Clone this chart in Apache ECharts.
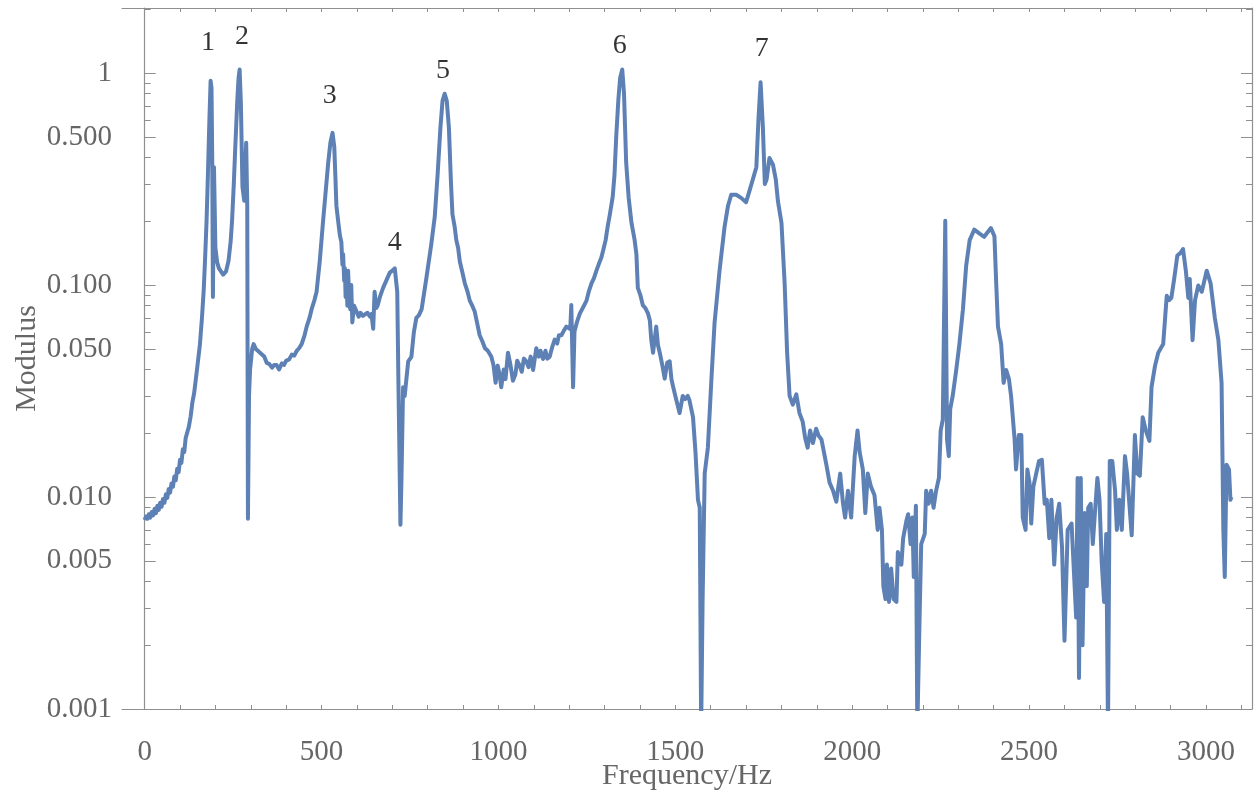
<!DOCTYPE html>
<html>
<head>
<meta charset="utf-8">
<script src="https://cdn.jsdelivr.net/npm/echarts@6/dist/echarts.min.js"></script>
<style>
  html, body { margin: 0; padding: 0; background: #fff; }
  #chart { width: 1254px; height: 794px; }
</style>
</head>
<body>
<div id="chart"></div>
<script>
// frequency (Hz) and modulus, 10 points per row
const freqHz = [
  0, 4, 8, 12, 16, 20, 24, 28, 32, 36,
  40, 44, 48, 52, 56, 60, 64, 68, 72, 76,
  80, 84, 88, 92, 96, 100, 104, 108, 112, 116,
  120, 125, 130, 135, 140, 148, 156, 162, 167, 171,
  175, 179, 183, 186.5, 189, 191, 193, 196, 198.5, 200,
  205, 210, 222, 230, 237, 243, 247, 252, 256, 262,
  265.5, 268.5, 272, 276.5, 281.5, 287, 290, 292, 295, 298,
  304, 308, 314, 320, 326, 331, 338, 345, 352, 360,
  366, 373, 380, 388, 394, 400, 408, 416, 423, 430,
  437, 444, 452, 458, 466, 472, 480, 486, 495, 504,
  512, 519, 525, 531, 536, 539, 542, 547, 552, 556,
  559, 561, 564, 566, 568, 570, 573, 575, 578, 581,
  584, 587, 592, 599, 605, 610, 617, 624, 630, 637,
  641, 646, 650, 655, 659, 665, 674, 683, 693, 700,
  707, 714, 717.5, 723, 726, 730.5, 735, 745, 754, 761,
  768, 775, 783, 796, 810, 820, 828, 836, 842, 848,
  854, 860, 866, 870, 876, 881, 886, 891, 898, 905,
  912, 919, 926, 933, 940, 947, 955, 962, 970, 980,
  986, 992, 998, 1003, 1008, 1015, 1020, 1027, 1034, 1041,
  1048, 1053, 1060, 1066, 1072, 1079, 1085, 1091, 1098, 1107,
  1114, 1119, 1126, 1133, 1138, 1145, 1152, 1159, 1166, 1171,
  1178, 1185, 1192, 1203, 1206, 1211, 1215, 1222, 1230, 1240,
  1249, 1256, 1263, 1270, 1277, 1284, 1291, 1297, 1303, 1309,
  1315, 1323, 1328, 1333, 1339, 1344, 1350, 1355, 1361, 1368,
  1376, 1385, 1390, 1394, 1401, 1408, 1415, 1423, 1428, 1432,
  1437, 1446, 1451, 1456, 1463, 1470, 1477, 1484, 1489, 1494,
  1503, 1512, 1521, 1528, 1535, 1540, 1550, 1557, 1564, 1569,
  1573, 1577, 1583, 1592, 1602, 1611, 1625, 1639, 1649, 1658,
  1672, 1686, 1700, 1710, 1719, 1729, 1735, 1741, 1747.5, 1753,
  1758, 1766, 1776, 1784, 1790, 1800, 1809, 1816, 1823, 1832,
  1842, 1851, 1860, 1867, 1874, 1881, 1889, 1898, 1905, 1913,
  1927, 1936, 1946, 1955, 1966, 1974, 1980, 1988, 1997, 2007,
  2015, 2021, 2030, 2037, 2044, 2053, 2063, 2072, 2077, 2084,
  2088, 2094, 2098, 2104, 2110, 2117, 2125, 2129, 2139, 2144,
  2153, 2158, 2165, 2170, 2174, 2180, 2184, 2190, 2195, 2205,
  2209, 2216, 2223, 2230, 2237, 2245, 2250, 2256, 2263, 2268,
  2273, 2277, 2284, 2294, 2303, 2313, 2322, 2332, 2345, 2360,
  2373, 2392, 2402, 2407, 2412, 2421, 2428, 2435, 2443, 2449,
  2459, 2463, 2471, 2478, 2482, 2490, 2495, 2501, 2506, 2512,
  2520, 2528, 2536, 2544, 2550, 2557, 2563, 2571, 2578, 2585,
  2593, 2600, 2609, 2620, 2628, 2633, 2637, 2641, 2646, 2651,
  2657, 2663, 2667, 2674, 2680, 2687, 2693, 2699, 2705, 2712,
  2718, 2723, 2728, 2735, 2743, 2748, 2755, 2762, 2771, 2777,
  2790, 2799, 2806, 2813, 2821, 2830, 2840, 2846, 2856, 2865,
  2879, 2889, 2896, 2902, 2910, 2919, 2928, 2935, 2943, 2950,
  2954, 2962, 2969, 2978, 2988, 3002, 3013, 3025, 3035, 3044,
  3049, 3053, 3058, 3065, 3069, 3072
];
const modulus = [
  0.0078, 0.0081, 0.0079, 0.0083, 0.0080, 0.0085, 0.0082, 0.0088, 0.0084, 0.0091,
  0.0087, 0.0094, 0.0090, 0.0098, 0.0094, 0.0103, 0.0099, 0.0109, 0.0105, 0.0116,
  0.0112, 0.0125, 0.0120, 0.0136, 0.0131, 0.0150, 0.0145, 0.0168, 0.0163, 0.0190,
  0.0186, 0.0215, 0.024, 0.028, 0.031, 0.040, 0.052, 0.07, 0.095, 0.135,
  0.2, 0.34, 0.6, 0.92, 0.85, 0.4, 0.088, 0.36, 0.36, 0.15,
  0.128, 0.12, 0.112, 0.116, 0.13, 0.16, 0.2, 0.3, 0.44, 0.75,
  0.95, 1.04, 0.72, 0.29, 0.25, 0.47, 0.24, 0.0079, 0.03, 0.04,
  0.05, 0.0527, 0.050, 0.049, 0.048, 0.047, 0.046, 0.043, 0.0425, 0.0408,
  0.0420, 0.042, 0.040, 0.0427, 0.0420, 0.044, 0.0445, 0.047, 0.0465, 0.049,
  0.0505, 0.0528, 0.058, 0.0637, 0.07, 0.077, 0.085, 0.093, 0.13, 0.197,
  0.28, 0.38, 0.47, 0.523, 0.45, 0.33, 0.237, 0.2, 0.171, 0.16,
  0.125, 0.14, 0.105, 0.12, 0.088, 0.11, 0.08, 0.117, 0.09, 0.077,
  0.1, 0.0667, 0.08, 0.075, 0.071, 0.074, 0.0716, 0.073, 0.074, 0.071,
  0.073, 0.0622, 0.093, 0.078, 0.0805, 0.088, 0.097, 0.105, 0.1146, 0.117,
  0.12, 0.093, 0.033, 0.0074, 0.0123, 0.033, 0.030, 0.0437, 0.0459, 0.06,
  0.070, 0.072, 0.077, 0.107, 0.155, 0.21, 0.33, 0.553, 0.74, 0.80,
  0.74, 0.553, 0.30, 0.216, 0.19, 0.163, 0.15, 0.129, 0.115, 0.102,
  0.094, 0.0845, 0.080, 0.075, 0.066, 0.058, 0.054, 0.0504, 0.049, 0.0459,
  0.042, 0.0346, 0.0417, 0.038, 0.033, 0.040, 0.036, 0.048, 0.042, 0.0354,
  0.038, 0.044, 0.0417, 0.039, 0.045, 0.0437, 0.041, 0.046, 0.0398, 0.0504,
  0.046, 0.049, 0.0448, 0.049, 0.045, 0.046, 0.051, 0.0553, 0.053, 0.058,
  0.058, 0.061, 0.0637, 0.062, 0.0805, 0.033, 0.0605, 0.067, 0.0733, 0.079,
  0.0845, 0.094, 0.102, 0.108, 0.117, 0.126, 0.135, 0.148, 0.163, 0.19,
  0.216, 0.261, 0.33, 0.504, 0.75, 0.95, 1.04, 0.8, 0.38, 0.26,
  0.197, 0.163, 0.14, 0.097, 0.09, 0.0805, 0.078, 0.0733, 0.068, 0.0553,
  0.048, 0.0637, 0.052, 0.048, 0.042, 0.0362, 0.043, 0.0437, 0.036, 0.033,
  0.0286, 0.0249, 0.030, 0.029, 0.030, 0.0286, 0.0238, 0.0163, 0.0097, 0.0089,
  0.0008, 0.0032, 0.0129, 0.0171, 0.036, 0.0667, 0.117, 0.1876, 0.237, 0.267,
  0.267, 0.258, 0.246, 0.28, 0.315, 0.36, 0.608, 0.906, 0.553, 0.30,
  0.315, 0.398, 0.37, 0.315, 0.249, 0.197, 0.102, 0.048, 0.030, 0.0273,
  0.0305, 0.0249, 0.0227, 0.019, 0.0171, 0.0206, 0.018, 0.021, 0.0195, 0.0187,
  0.0142, 0.0117, 0.0107, 0.0095, 0.0129, 0.0093, 0.008, 0.0107, 0.008, 0.0156,
  0.0206, 0.0163, 0.0135, 0.0084, 0.0129, 0.0112, 0.0102, 0.007, 0.0089, 0.007,
  0.0038, 0.0033, 0.0048, 0.0032, 0.0046, 0.0033, 0.0032, 0.0055, 0.0048, 0.0064,
  0.0077, 0.0083, 0.006, 0.008, 0.0042, 0.0091, 0.0008, 0.0025, 0.006, 0.0067,
  0.0107, 0.0093, 0.0107, 0.0089, 0.0107, 0.0123, 0.0206, 0.0232, 0.201, 0.0187,
  0.0156, 0.026, 0.030, 0.0398, 0.0527, 0.077, 0.123, 0.163, 0.183, 0.175,
  0.169, 0.186, 0.17, 0.102, 0.0637, 0.0527, 0.0346, 0.0398, 0.036, 0.030,
  0.0187, 0.0135, 0.0196, 0.0196, 0.008, 0.007, 0.0135, 0.0117, 0.0075, 0.0112,
  0.0129, 0.0148, 0.015, 0.0093, 0.0097, 0.0064, 0.0097, 0.0048, 0.008, 0.0093,
  0.0058, 0.0021, 0.007, 0.0075, 0.004, 0.0027, 0.0123, 0.0014, 0.0123, 0.002,
  0.0084, 0.0038, 0.0089, 0.0093, 0.006, 0.0089, 0.0123, 0.0097, 0.005, 0.0032,
  0.0067, 0.0008, 0.0148, 0.0148, 0.0107, 0.007, 0.0097, 0.007, 0.0156, 0.0129,
  0.0066, 0.0196, 0.0129, 0.0126, 0.0238, 0.0206, 0.0184, 0.033, 0.0417, 0.048,
  0.0527, 0.089, 0.085, 0.087, 0.107, 0.138, 0.142, 0.148, 0.117, 0.087,
  0.107, 0.055, 0.085, 0.0995, 0.093, 0.117, 0.102, 0.07, 0.055, 0.0346,
  0.007, 0.0042, 0.0142, 0.0135, 0.0097, 0.01
];

// peak numbers
const peakNames = ['1', '2', '3', '4', '5', '6', '7'];
const peakX = [179, 275, 523, 707, 843, 1343, 1744];
const peakY = [1.40, 1.49, 0.78, 0.158, 1.03, 1.355, 1.30];

// ticks
const xLabelValues = [0, 500, 1000, 1500, 2000, 2500, 3000];
const xTickValues = [0, 100, 200, 300, 400, 500, 600, 700, 800, 900, 1000, 1100, 1200, 1300, 1400, 1500,
  1600, 1700, 1800, 1900, 2000, 2100, 2200, 2300, 2400, 2500, 2600, 2700, 2800, 2900, 3000, 3100];
const yLabelValues = [0.001, 0.005, 0.01, 0.05, 0.1, 0.5, 1];
const yLabelText = ['0.001', '0.005', '0.010', '0.050', '0.100', '0.500', '1'];
const yMinorValues = [0.002, 0.003, 0.004, 0.006, 0.007, 0.008, 0.009,
  0.02, 0.03, 0.04, 0.06, 0.07, 0.08, 0.09,
  0.2, 0.3, 0.4, 0.6, 0.7, 0.8, 0.9, 2];

const serif = 'Liberation Serif';
const frameColor = '#8f8f8f';
const labelColor = '#666666';
const X_MIN = -64, X_MAX = 3130;
const Y_MIN = 0.001, Y_MAX = 2.03;

function yLabel(v) {
  for (let i = 0; i < yLabelValues.length; i++) {
    if (Math.abs(Math.log10(v) - Math.log10(yLabelValues[i])) < 1e-6) return yLabelText[i];
  }
  return '';
}

function xAxis(pos, withLabels) {
  return {
    type: 'value', position: pos, min: X_MIN, max: X_MAX,
    name: withLabels ? 'Frequency/Hz' : '',
    nameLocation: 'middle', nameGap: 52, nameMoveOverlap: false,
    nameTextStyle: { fontFamily: serif, fontSize: 30, color: labelColor },
    axisLine: { show: true, lineStyle: { color: frameColor, width: 1.2 } },
    axisTick: { show: true, inside: true, length: 4, customValues: xTickValues, lineStyle: { color: frameColor } },
    axisLabel: { show: withLabels, customValues: xLabelValues, margin: 29, formatter: v => String(v),
      fontFamily: serif, fontSize: 29, color: labelColor },
    splitLine: { show: false }
  };
}

function yAxis(pos, major, withLabels) {
  return {
    type: 'log', logBase: 10, position: pos, min: Y_MIN, max: Y_MAX,
    name: withLabels ? 'Modulus' : '',
    nameLocation: 'middle', nameGap: 80, nameMoveOverlap: false,
    nameTextStyle: { fontFamily: serif, fontSize: 30, color: labelColor },
    axisLine: { show: major, lineStyle: { color: frameColor, width: 1.2 } },
    axisTick: { show: true, inside: true, length: major ? 11 : 6,
      customValues: major ? yLabelValues : yMinorValues, lineStyle: { color: frameColor } },
    axisLabel: { show: withLabels, customValues: yLabelValues, margin: 10, formatter: yLabel,
      fontFamily: serif, fontSize: 29, color: labelColor },
    splitLine: { show: false }
  };
}

const chart = echarts.init(document.getElementById('chart'));
chart.setOption({
  backgroundColor: '#ffffff',
  animation: false,
  grid: { left: 122, right: 2, top: 8, bottom: 85, containLabel: false, outerBoundsMode: 'none' },
  xAxis: [xAxis('bottom', true), xAxis('top', false)],
  yAxis: [yAxis('left', true, true), yAxis('left', false, false), yAxis('right', true, false), yAxis('right', false, false)],
  series: [
    {
      type: 'line',
      xAxisIndex: 0, yAxisIndex: 0,
      data: freqHz.map((f, i) => [f, modulus[i]]),
      showSymbol: false,
      symbol: 'none',
      clip: true,
      lineStyle: { color: '#5e81b5', width: 4, join: 'round' }
    },
    {
      type: 'scatter',
      xAxisIndex: 0, yAxisIndex: 0,
      data: peakX.map((x, i) => [x, peakY[i], peakNames[i]]),
      symbolSize: 0,
      silent: true,
      label: { show: true, position: 'inside', formatter: p => p.data[2],
        fontFamily: serif, fontSize: 28, color: '#000000' }
    }
  ]
});
</script>
</body>
</html>
